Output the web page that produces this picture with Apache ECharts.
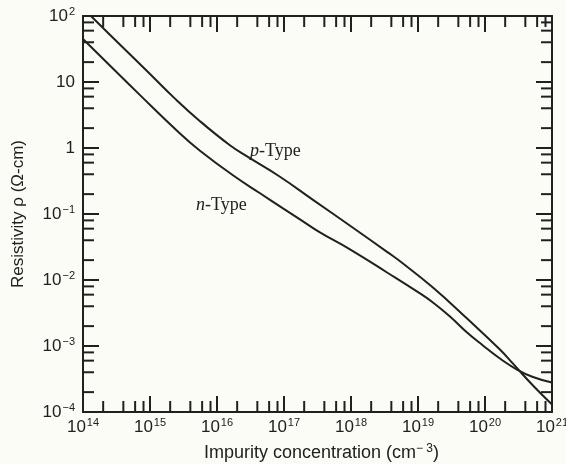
<!DOCTYPE html>
<html>
<head>
<meta charset="utf-8">
<script src="https://cdn.jsdelivr.net/npm/echarts@6/dist/echarts.min.js"></script>
<style>
html, body { margin: 0; padding: 0; background: #fcfcf7; }
#chart { width: 566px; height: 464px; }
</style>
</head>
<body>
<div id="chart"></div>
<script>
// p-type curve
var pConc = [1e14, 1.36e14, 1e15, 2.36e15, 5.57e15, 1.56e16, 2.77e16, 8.7e16, 2.71e17, 1.07e18, 3.45e18, 5.4e18, 1.67e19, 5.4e19, 1.67e20, 2.62e20, 5.2e20, 1e21];
var pRho = [135, 96.6, 13.2, 5.6, 2.55, 1.10, 0.751, 0.367, 0.164, 0.0618, 0.0267, 0.0192, 0.0077, 0.00261, 8.85e-4, 5.4e-4, 2.52e-4, 1.3e-4];
// n-type curve
var nConc = [1e14, 7.1e14, 2.8e15, 5.57e15, 1.73e16, 4.39e16, 9.66e16, 1.73e17, 3.44e17, 9.66e17, 3.45e18, 1.07e19, 1.67e19, 3.0e19, 5.4e19, 9.3e19, 1.67e20, 3.0e20, 5.2e20, 1e21];
var nRho = [44.8, 6.33, 1.66, 0.91, 0.386, 0.206, 0.122, 0.0831, 0.0527, 0.0291, 0.0130, 0.00626, 0.00457, 0.0028, 0.0016, 1.02e-3, 6.46e-4, 4.40e-4, 3.39e-4, 2.79e-4];
// axes
var xDecades = [14, 15, 16, 17, 18, 19, 20, 21];
var yDecades = [-4, -3, -2, -1, 0, 1, 2];
var minorSteps = [2, 4, 6, 8];

var ink = '#202020';
var labelFont = 'Liberation Sans';

function pairs(xs, ys) {
    return xs.map(function (x, i) { return [x, ys[i]]; });
}

// minor tick values between decades
var xMinor = [], yMinor = [];
xDecades.slice(0, -1).forEach(function (d) {
    minorSteps.forEach(function (m) { xMinor.push([m * Math.pow(10, d), 1e-4]); });
});
yDecades.slice(0, -1).forEach(function (d) {
    minorSteps.forEach(function (m) { yMinor.push([1e14, m * Math.pow(10, d)]); });
});

function powLabel(v) {
    var e = Math.round(Math.log10(v));
    if (e === 0) return '{b|1}';
    if (e === 1) return '{b|10}';
    return '{b|10}{s|' + (e < 0 ? '\u2212' + (-e) : e) + '}';
}

var richLabel = {
    b: { fontSize: 17, fontFamily: labelFont, color: ink },
    s: { fontSize: 11, fontFamily: labelFont, color: ink, padding: [0, 0, 9, 1] }
};

function minorTicks(isX) {
    return function (params, api) {
        var cs = params.coordSys;
        var p = api.coord([api.value(0), api.value(1)]);
        var len = 11;
        var a, b;
        if (isX) {
            a = { x1: p[0], y1: cs.y + cs.height, x2: p[0], y2: cs.y + cs.height - len };
            b = { x1: p[0], y1: cs.y, x2: p[0], y2: cs.y + len };
        } else {
            a = { x1: cs.x, y1: p[1], x2: cs.x + len, y2: p[1] };
            b = { x1: cs.x + cs.width, y1: p[1], x2: cs.x + cs.width - len, y2: p[1] };
        }
        return {
            type: 'group',
            children: [
                { type: 'line', shape: a, style: { stroke: ink, lineWidth: 2 } },
                { type: 'line', shape: b, style: { stroke: ink, lineWidth: 2 } }
            ]
        };
    };
}

var baseX = {
    type: 'log', logBase: 10, min: 1e14, max: 1e21, interval: 1,
    axisLine: { show: true, lineStyle: { color: ink, width: 2 } },
    axisTick: { show: true, inside: true, length: 16, lineStyle: { color: ink, width: 2 } },
    splitLine: { show: false }
};
var baseY = {
    type: 'log', logBase: 10, min: 1e-4, max: 100, interval: 1,
    axisLine: { show: true, lineStyle: { color: ink, width: 2 } },
    axisTick: { show: true, inside: true, length: 16, lineStyle: { color: ink, width: 2 } },
    splitLine: { show: false }
};

var typeRich = {
    i: { fontStyle: 'italic', fontFamily: 'Liberation Serif', fontSize: 18, fill: ink },
    r: { fontFamily: 'Liberation Serif', fontSize: 18, fill: ink }
};

var chart = echarts.init(document.getElementById('chart'));
var option = {
    backgroundColor: '#fcfcf7',
    animation: false,
    grid: { left: 83, right: 14, top: 16, bottom: 52, containLabel: false, outerBoundsMode: 'none' },
    xAxis: [
        Object.assign({}, baseX, {
            position: 'bottom',
            name: 'Impurity concentration (cm{s|\u2212 3})',
            nameLocation: 'middle',
            nameGap: 31,
            nameTextStyle: {
                fontSize: 18, fontFamily: labelFont, color: ink, padding: [0, 0, 0, 8],
                rich: { s: { fontSize: 12, fontFamily: labelFont, color: ink, padding: [0, 0, 9, 0] } }
            },
            axisLabel: { margin: 5, formatter: powLabel, rich: richLabel }
        }),
        Object.assign({}, baseX, { position: 'top', axisLabel: { show: false } })
    ],
    yAxis: [
        Object.assign({}, baseY, {
            position: 'left',
            name: 'Resistivity \u03c1 (\u03a9-cm)',
            nameLocation: 'middle',
            nameGap: 56,
            nameTextStyle: { fontSize: 17, fontFamily: labelFont, color: ink },
            axisLabel: { margin: 8, formatter: powLabel, rich: richLabel }
        }),
        Object.assign({}, baseY, { position: 'right', axisLabel: { show: false } })
    ],
    graphic: [
        { type: 'text', left: 250, top: 142, style: { text: '{i|p}{r|-Type}', rich: typeRich } },
        { type: 'text', left: 196, top: 196, style: { text: '{i|n}{r|-Type}', rich: typeRich } }
    ],
    series: [
        {
            name: 'p-Type', type: 'line', data: pairs(pConc, pRho),
            smooth: 0.45, showSymbol: false, clip: true,
            lineStyle: { color: ink, width: 2 }
        },
        {
            name: 'n-Type', type: 'line', data: pairs(nConc, nRho),
            smooth: 0.45, showSymbol: false, clip: true,
            lineStyle: { color: ink, width: 2 }
        },
        { type: 'custom', data: xMinor, renderItem: minorTicks(true), silent: true, z: 3 },
        { type: 'custom', data: yMinor, renderItem: minorTicks(false), silent: true, z: 3 }
    ]
};
chart.setOption(option);
</script>
</body>
</html>
